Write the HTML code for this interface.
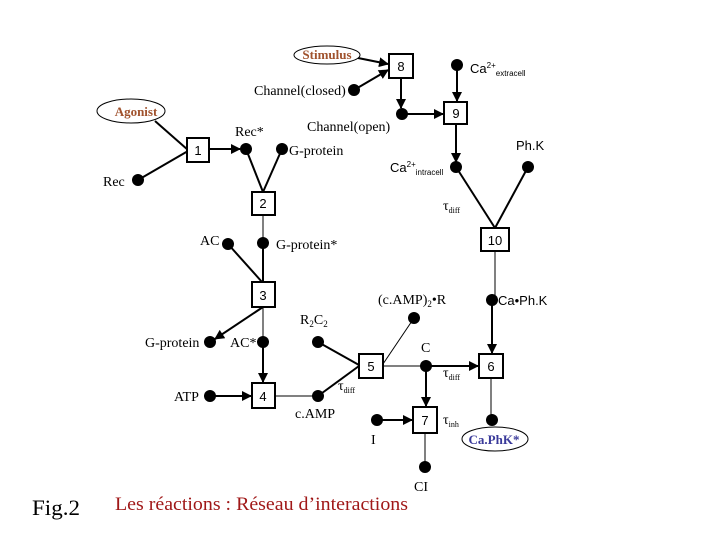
<!DOCTYPE html>
<html><head><meta charset="utf-8"><style>
html,body{margin:0;padding:0;background:#fff;}
svg{display:block;}
text{font-family:"Liberation Serif",serif;font-size:14px;fill:#000;}
.s{font-family:"Liberation Sans",sans-serif;font-size:13px;}
</style></head><body>
<svg width="720" height="540" viewBox="0 0 720 540" xmlns="http://www.w3.org/2000/svg">
<defs>
<marker id="a" viewBox="0 0 10 10" refX="9" refY="5" markerWidth="5" markerHeight="5" orient="auto"><path d="M0,0L10,5L0,10z" fill="#000"/></marker>
</defs>
<g stroke="#000" stroke-width="2" fill="none">
<line x1="358" y1="58" x2="388" y2="64" marker-end="url(#a)"/>
<line x1="354" y1="90" x2="388" y2="70" marker-end="url(#a)"/>
<line x1="401" y1="78" x2="401" y2="108" marker-end="url(#a)"/>
<line x1="402" y1="114" x2="443" y2="114" marker-end="url(#a)"/>
<line x1="457" y1="65" x2="457" y2="101" marker-end="url(#a)"/>
<line x1="456" y1="124" x2="456" y2="162" marker-end="url(#a)"/>
<line x1="456" y1="167" x2="495" y2="228"/>
<line x1="528" y1="167" x2="495" y2="228"/>
<line x1="492" y1="300" x2="492" y2="353" marker-end="url(#a)"/>
<line x1="155" y1="121" x2="188" y2="150"/>
<line x1="138" y1="180" x2="188" y2="151"/>
<line x1="209" y1="149" x2="240" y2="149" marker-end="url(#a)"/>
<line x1="246" y1="149" x2="263" y2="192"/>
<line x1="282" y1="149" x2="263" y2="192"/>
<line x1="263" y1="243" x2="263" y2="282"/>
<line x1="228" y1="244" x2="262" y2="282"/>
<line x1="263" y1="307" x2="215" y2="339" marker-end="url(#a)"/>
<line x1="263" y1="342" x2="263" y2="382" marker-end="url(#a)"/>
<line x1="210" y1="396" x2="251" y2="396" marker-end="url(#a)"/>
<line x1="318" y1="396" x2="359" y2="366"/>
<line x1="318" y1="342" x2="359" y2="365"/>
<line x1="426" y1="366" x2="478" y2="366" marker-end="url(#a)"/>
<line x1="426" y1="366" x2="426" y2="406" marker-end="url(#a)"/>
<line x1="377" y1="420" x2="412" y2="420" marker-end="url(#a)"/>
</g>
<g stroke="#000" stroke-width="1" fill="none">
<line x1="495" y1="251" x2="495" y2="300"/>
<line x1="491" y1="378" x2="491" y2="420"/>
<line x1="263" y1="215" x2="263" y2="243"/>
<line x1="263" y1="307" x2="263" y2="342"/>
<line x1="275" y1="396" x2="318" y2="396"/>
<line x1="383" y1="366" x2="426" y2="366"/>
<line x1="383" y1="364" x2="414" y2="318"/>
<line x1="425" y1="433" x2="425" y2="467"/>
</g>
<g fill="#000">
<circle cx="457" cy="65" r="6"/><circle cx="354" cy="90" r="6"/><circle cx="402" cy="114" r="6"/>
<circle cx="138" cy="180" r="6"/><circle cx="246" cy="149" r="6"/><circle cx="282" cy="149" r="6"/>
<circle cx="456" cy="167" r="6"/><circle cx="528" cy="167" r="6"/>
<circle cx="228" cy="244" r="6"/><circle cx="263" cy="243" r="6"/>
<circle cx="414" cy="318" r="6"/><circle cx="492" cy="300" r="6"/>
<circle cx="318" cy="342" r="6"/><circle cx="210" cy="342" r="6"/><circle cx="263" cy="342" r="6"/>
<circle cx="426" cy="366" r="6"/><circle cx="210" cy="396" r="6"/><circle cx="318" cy="396" r="6"/>
<circle cx="377" cy="420" r="6"/><circle cx="492" cy="420" r="6"/><circle cx="425" cy="467" r="6"/>
</g>
<g stroke="#000" stroke-width="2" fill="#fff">
<rect x="389" y="54" width="24" height="24"/>
<rect x="444" y="102" width="23" height="22"/>
<rect x="187" y="138" width="22" height="24"/>
<rect x="252" y="192" width="23" height="23"/>
<rect x="481" y="228" width="28" height="23"/>
<rect x="252" y="282" width="23" height="25"/>
<rect x="359" y="354" width="24" height="24"/>
<rect x="479" y="354" width="24" height="24"/>
<rect x="252" y="383" width="23" height="25"/>
<rect x="413" y="407" width="24" height="26"/>
</g>
<g stroke="#000" stroke-width="1" fill="#fff">
<ellipse cx="327" cy="55" rx="33" ry="9"/>
<ellipse cx="131" cy="111" rx="34" ry="12"/>
<ellipse cx="495" cy="439" rx="33" ry="12"/>
</g>
<g text-anchor="middle">
<text class="s" x="401" y="71">8</text><text class="s" x="456" y="118">9</text>
<text class="s" x="198" y="155">1</text><text class="s" x="263" y="208">2</text>
<text class="s" x="495" y="245">10</text><text class="s" x="263" y="300">3</text>
<text class="s" x="371" y="371">5</text><text class="s" x="491" y="371">6</text>
<text class="s" x="263" y="401">4</text><text class="s" x="425" y="425">7</text>
</g>
<text x="327" y="59" text-anchor="middle" style="font-weight:bold;font-size:13px;fill:#a0522d">Stimulus</text>
<text x="136" y="116" text-anchor="middle" style="font-weight:bold;font-size:13px;fill:#a0522d">Agonist</text>
<text x="494" y="444" text-anchor="middle" style="font-weight:bold;font-size:13px;fill:#3a3a9a">Ca.PhK*</text>
<text class="s" x="470" y="73">Ca<tspan font-size="8" dy="-5">2+</tspan><tspan font-size="8" dy="8">extracell</tspan></text>
<text x="254" y="95">Channel(closed)</text>
<text x="307" y="131">Channel(open)</text>
<text x="235" y="136">Rec*</text>
<text x="289" y="155">G-protein</text>
<text x="103" y="186">Rec</text>
<text class="s" x="516" y="150">Ph.K</text>
<text class="s" x="390" y="172">Ca<tspan font-size="8" dy="-5">2+</tspan><tspan font-size="8" dy="8">intracell</tspan></text>
<text x="443" y="210">τ<tspan font-size="8" dy="3">diff</tspan></text>
<text x="200" y="245">AC</text>
<text x="276" y="249">G-protein*</text>
<text x="378" y="304">(c.AMP)<tspan font-size="9" dy="3">2</tspan><tspan dy="-3">•R</tspan></text>
<text class="s" x="498" y="305">Ca•Ph.K</text>
<text x="300" y="324">R<tspan font-size="9" dy="3">2</tspan><tspan dy="-3">C</tspan><tspan font-size="9" dy="3">2</tspan></text>
<text x="145" y="347">G-protein</text>
<text x="230" y="347">AC*</text>
<text x="421" y="352">C</text>
<text x="443" y="377">τ<tspan font-size="8" dy="3">diff</tspan></text>
<text x="174" y="401">ATP</text>
<text x="338" y="390">τ<tspan font-size="8" dy="3">diff</tspan></text>
<text x="295" y="418">c.AMP</text>
<text x="443" y="424">τ<tspan font-size="8" dy="3">inh</tspan></text>
<text x="371" y="444">I</text>
<text x="414" y="491">CI</text>
<text x="32" y="515" style="font-size:22px" textLength="48" lengthAdjust="spacingAndGlyphs">Fig.2</text>
<text x="115" y="510" style="font-size:19px;fill:#a01818" textLength="293" lengthAdjust="spacingAndGlyphs">Les réactions : Réseau d’interactions</text>
</svg>
</body></html>
